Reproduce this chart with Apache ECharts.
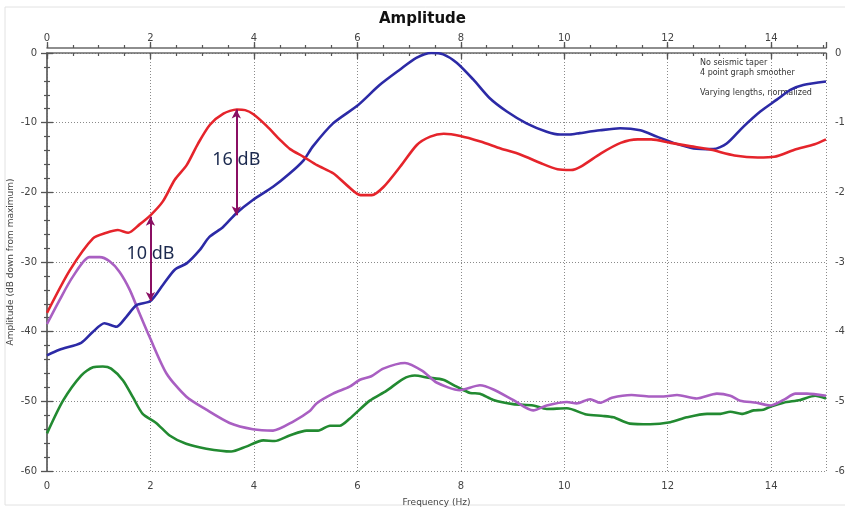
<!DOCTYPE html>
<html><head><meta charset="utf-8">
<script src="https://cdn.jsdelivr.net/npm/echarts@6/dist/echarts.min.js"></script>
<style>html,body{margin:0;padding:0;background:#fff}#c{width:845px;height:507px}</style>
</head><body><div id="c"></div>
<script>
// ---- data ----
const xMax = 15.06;
const xLabelValues = [0, 2, 4, 6, 8, 10, 12, 14];
const xMinorValues = [0,0.5,1,1.5,2,2.5,3,3.5,4,4.5,5,5.5,6,6.5,7,7.5,8,8.5,9,9.5,10,10.5,11,11.5,12,12.5,13,13.5,14,14.5,15];

const redFreq = [0,0.44,0.89,1.15,1.37,1.57,1.79,2.0,2.24,2.47,2.70,2.92,3.15,3.41,3.67,3.83,3.99,4.25,4.51,4.70,4.96,5.22,5.54,5.80,6.06,6.28,6.51,6.83,7.15,7.41,7.67,7.99,8.38,8.77,9.16,9.54,9.87,10.13,10.32,10.71,11.09,11.42,11.68,12.06,12.45,12.84,13.29,13.74,14.06,14.45,14.84,15.06];
const redAmp = [-37.3,-31.2,-26.6,-25.8,-25.4,-25.8,-24.6,-23.3,-21.3,-18.2,-16.1,-13.0,-10.3,-8.7,-8.1,-8.2,-8.8,-10.5,-12.5,-13.8,-14.9,-16.1,-17.3,-19.0,-20.4,-20.4,-19.2,-16.3,-13.2,-12.0,-11.6,-11.9,-12.7,-13.7,-14.6,-15.8,-16.7,-16.8,-16.3,-14.4,-12.9,-12.4,-12.4,-12.9,-13.4,-13.9,-14.7,-15.0,-14.9,-13.9,-13.1,-12.4];

const blueFreq = [0,0.24,0.66,0.89,1.11,1.34,1.53,1.73,2.0,2.24,2.47,2.70,2.95,3.14,3.40,3.66,3.98,4.37,4.69,4.96,5.14,5.53,6.01,6.43,6.82,7.14,7.43,7.66,7.92,8.24,8.56,8.89,9.27,9.66,9.92,10.11,10.3,10.69,11.08,11.47,11.79,12.11,12.5,12.88,13.14,13.46,13.79,14.11,14.37,14.62,15.06];
const blueAmp = [-43.4,-42.6,-41.6,-40.0,-38.8,-39.3,-37.9,-36.2,-35.6,-33.3,-31.1,-30.2,-28.3,-26.4,-25.0,-23.0,-21.1,-19.2,-17.3,-15.4,-13.4,-10.1,-7.5,-4.6,-2.4,-0.7,0.0,-0.2,-1.4,-3.8,-6.5,-8.4,-10.1,-11.3,-11.7,-11.7,-11.5,-11.1,-10.8,-11.1,-12.0,-12.9,-13.7,-13.8,-13.0,-10.6,-8.4,-6.7,-5.3,-4.6,-4.1];

const purpleFreq = [0,0.24,0.5,0.82,1.02,1.21,1.40,1.60,1.79,1.98,2.31,2.69,3.08,3.53,3.98,4.37,4.76,5.08,5.21,5.53,5.85,6.05,6.27,6.5,6.92,7.27,7.53,7.98,8.37,8.63,9.01,9.4,9.66,10.05,10.24,10.5,10.69,10.92,11.3,11.66,11.92,12.18,12.56,12.95,13.21,13.4,13.72,13.98,14.24,14.47,14.69,15.06];
const purpleAmp = [-38.9,-35.5,-32.1,-29.3,-29.3,-29.9,-31.4,-34.0,-37.4,-40.7,-46.0,-49.3,-51.2,-53.1,-54.0,-54.2,-52.9,-51.4,-50.3,-48.9,-47.9,-46.9,-46.4,-45.3,-44.5,-45.7,-47.3,-48.4,-47.7,-48.3,-49.8,-51.3,-50.6,-50.1,-50.3,-49.7,-50.2,-49.5,-49.1,-49.3,-49.3,-49.1,-49.6,-48.9,-49.2,-49.9,-50.2,-50.6,-49.8,-48.9,-48.9,-49.2];

const greenFreq = [0,0.31,0.66,0.89,1.08,1.24,1.47,1.66,1.85,2.11,2.37,2.69,3.08,3.56,3.85,4.18,4.4,4.69,5.02,5.24,5.47,5.66,5.85,6.24,6.56,6.88,7.11,7.37,7.66,7.92,8.18,8.37,8.63,9.01,9.4,9.66,10.05,10.43,10.75,10.95,11.27,11.66,12.05,12.37,12.76,13.02,13.21,13.43,13.66,13.85,14.01,14.24,14.56,14.85,15.06];
const greenAmp = [-54.6,-49.9,-46.3,-45.1,-45.0,-45.3,-47.0,-49.4,-51.8,-53.1,-54.9,-56.1,-56.8,-57.2,-56.5,-55.6,-55.7,-54.9,-54.2,-54.2,-53.5,-53.5,-52.5,-49.9,-48.5,-46.8,-46.3,-46.6,-46.9,-47.9,-48.8,-48.9,-49.8,-50.4,-50.6,-51.1,-51.0,-51.9,-52.1,-52.3,-53.2,-53.3,-53.0,-52.3,-51.8,-51.8,-51.5,-51.8,-51.3,-51.2,-50.7,-50.2,-49.8,-49.2,-49.6];

// annotations: arrow at frequency, from top dB to bottom dB, label
const arrowFreq = [2.0, 3.66];
const arrowTop = [-23.5, -8.1];
const arrowBottom = [-35.6, -23.3];
const arrowLabel = ['10 dB', '16 dB'];
const arrowLabelY = [-28.9, -15.3];

const noteLines = ['No seismic taper', '4 point graph smoother', '', 'Varying lengths, normalized'];

// ---- chart ----
const pair = (xs, ys) => xs.map((x, i) => [x, ys[i]]);
const labelFont = {fontFamily: 'DejaVu Sans', fontSize: 10, color: '#444'};
const axisLineStyle = {color: '#6a6a6a', width: 1.5};
const gridDots = {color: '#8a8a8a', type: [1, 2], width: 1};
const majorTicks = xLabelValues.concat([xMax]);

function xAxisPair(pos, withName) {
  return [{
    type: 'value', position: pos, min: 0, max: xMax, offset: 5,
    axisLine: {show: true, lineStyle: axisLineStyle},
    axisTick: {show: true, customValues: majorTicks, length: 6, lineStyle: {color: '#555', width: 1.3}},
    axisLabel: Object.assign({customValues: xLabelValues, margin: 5}, labelFont),
    splitLine: {show: pos === 'bottom', lineStyle: gridDots},
    name: withName ? 'Frequency (Hz)' : '',
    nameLocation: 'middle', nameGap: 22,
    nameTextStyle: {fontFamily: 'DejaVu Sans', fontSize: 9, color: '#444'}
  }, {
    type: 'value', position: pos, min: 0, max: xMax, offset: 5,
    axisLine: {show: false},
    axisTick: {show: true, customValues: xMinorValues, length: 3, lineStyle: {color: '#555', width: 1.2}},
    axisLabel: {show: false},
    splitLine: {show: false}
  }];
}

const yBase = {
  type: 'value', min: -60, max: 0, interval: 10,
  axisLine: {show: true, lineStyle: axisLineStyle},
  axisTick: {show: true, length: 6, lineStyle: {color: '#555', width: 1.3}},
  minorTick: {show: true, splitNumber: 5, length: 3, lineStyle: {color: '#555', width: 1.2}},
  axisLabel: Object.assign({margin: 6}, labelFont)
};

const chart = echarts.init(document.getElementById('c'), null, {renderer: 'canvas'});
chart.setOption({
  animation: false,
  backgroundColor: '#ffffff',
  title: {
    text: 'Amplitude', left: 'center', top: 7,
    textStyle: {fontFamily: 'DejaVu Sans', fontWeight: 'bold', fontSize: 15, color: '#111'}
  },
  grid: {left: 47, right: 19, top: 53, bottom: 36, containLabel: false, outerBoundsMode: 'none'},
  xAxis: [].concat(xAxisPair('bottom', true), xAxisPair('top', false)),
  yAxis: [
    Object.assign({}, yBase, {
      position: 'left', offset: 4,
      splitLine: {show: true, lineStyle: gridDots},
      name: 'Amplitude (dB down from maximum)', nameLocation: 'middle', nameGap: 28,
      nameMoveOverlap: false,
      nameTextStyle: {fontFamily: 'DejaVu Sans', fontSize: 9, color: '#444'}
    }),
    Object.assign({}, yBase, {position: 'right', offset: 3, splitLine: {show: false}})
  ],
  graphic: [
    {type: 'rect', shape: {x: 5, y: 7, width: 850, height: 498}, style: {fill: 'none', stroke: '#e2e2e2', lineWidth: 1}, silent: true, z: -1},
    {type: 'text', left: 700, top: 58, style: {text: noteLines.join('\n'), font: '8px "DejaVu Sans"', fill: '#333', lineHeight: 10}}
  ],
  series: [
    {name: 'green', type: 'line', data: pair(greenFreq, greenAmp), showSymbol: false, smooth: 0.25,
     lineStyle: {color: '#228a31', width: 2.6}, itemStyle: {color: '#228a31'}},
    {name: 'purple', type: 'line', data: pair(purpleFreq, purpleAmp), showSymbol: false, smooth: 0.25,
     lineStyle: {color: '#a95fc2', width: 2.6}, itemStyle: {color: '#a95fc2'}},
    {name: 'blue', type: 'line', data: pair(blueFreq, blueAmp), showSymbol: false, smooth: 0.25,
     lineStyle: {color: '#2c2aa6', width: 2.6}, itemStyle: {color: '#2c2aa6'}},
    {name: 'red', type: 'line', data: pair(redFreq, redAmp), showSymbol: false, smooth: 0.25,
     lineStyle: {color: '#e5242b', width: 2.6}, itemStyle: {color: '#e5242b'},
     markLine: {
       silent: true, symbol: ['arrow', 'arrow'], symbolSize: [7, 9], precision: 2,
       lineStyle: {color: '#8a0f63', width: 2, type: 'solid'},
       label: {show: false},
       data: arrowFreq.map((f, i) => [{coord: [f, arrowTop[i]]}, {coord: [f, arrowBottom[i]]}])
     },
     markPoint: {
       silent: true, symbol: 'circle', symbolSize: 0,
       label: {show: true, position: 'inside', formatter: p => p.name,
               fontFamily: 'Noto Sans', fontSize: 18, color: '#1c2a4f'},
       data: arrowFreq.map((f, i) => ({name: arrowLabel[i], coord: [f, arrowLabelY[i]]}))
     }}
  ]
});
</script></body></html>
